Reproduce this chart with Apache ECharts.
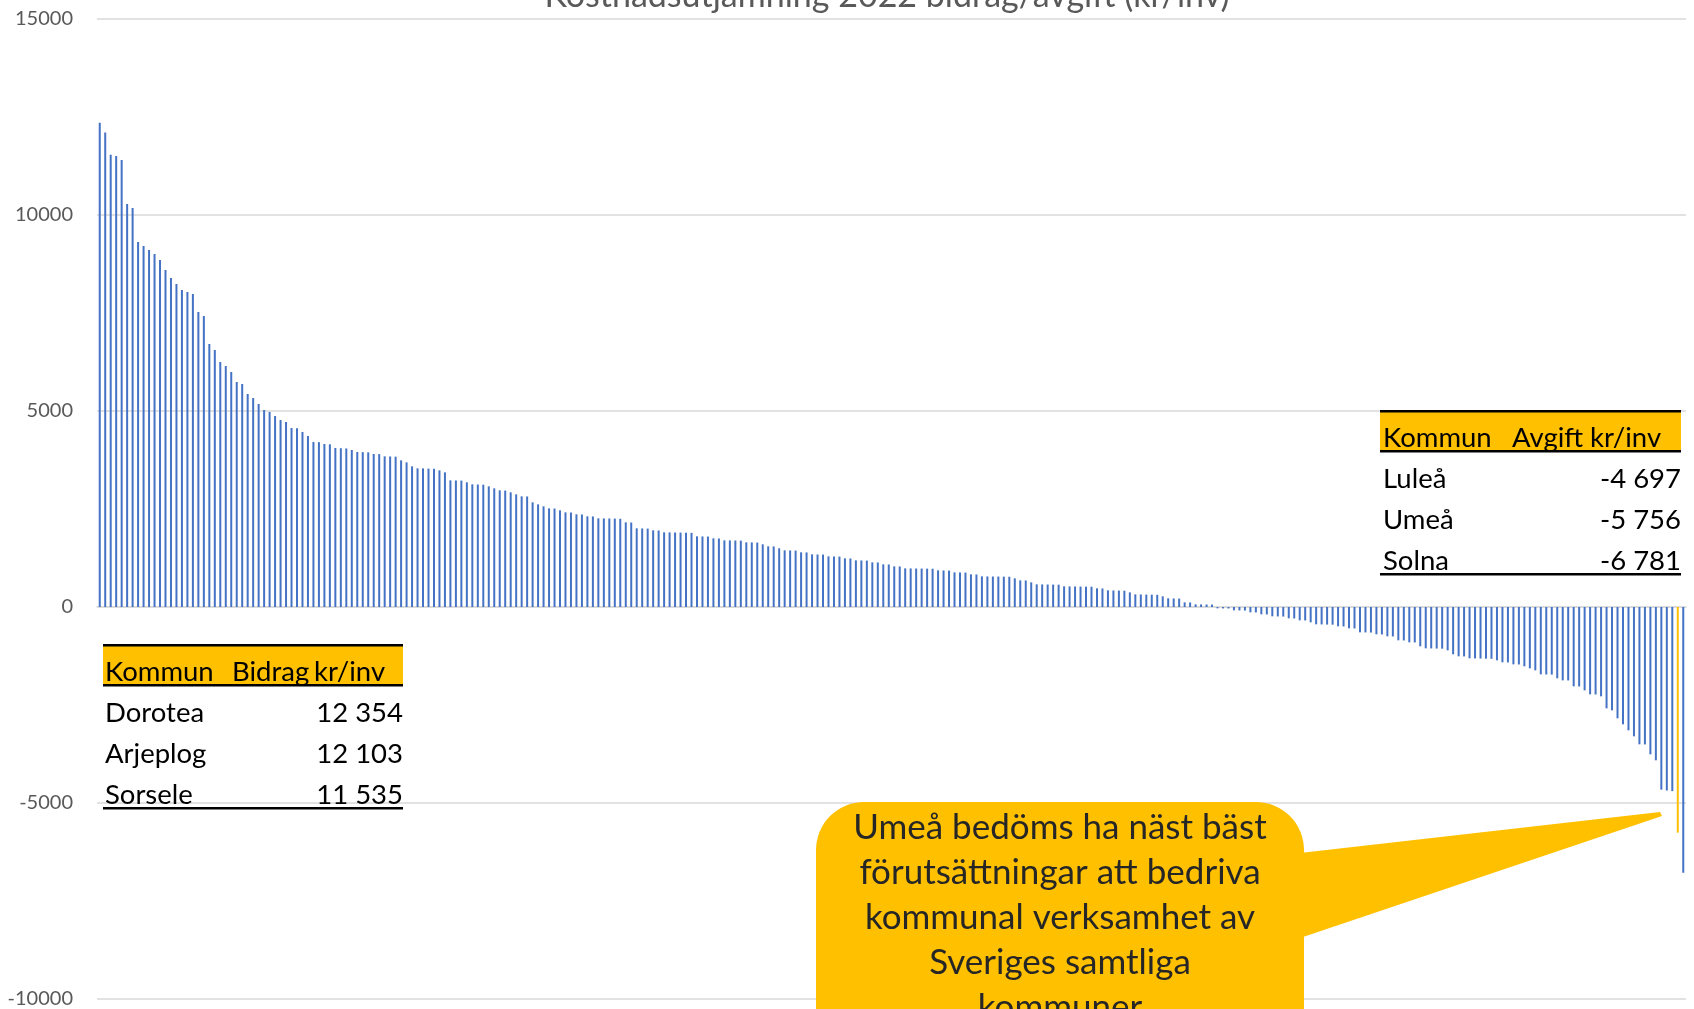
<!DOCTYPE html>
<html>
<head>
<meta charset="utf-8">
<script src="https://cdn.jsdelivr.net/npm/echarts@6/dist/echarts.min.js"></script>
<style>
html,body{margin:0;padding:0;background:#fff;}
#chart{width:1694px;height:1009px;}
</style>
</head>
<body>
<div id="chart"></div>
<script>
// ---- data (kr/inv per kommun, sorted) ----
const titleText = 'Kostnadsutjämning 2022 bidrag/avgift (kr/inv)';
const values = [
  12354, 12103, 11535, 11505, 11403, 10281, 10179, 9311, 9209, 9107,
  9005, 8852, 8597, 8393, 8240, 8087, 8036, 7985, 7525, 7423,
  6709, 6556, 6250, 6148, 5995, 5740, 5689, 5434, 5332, 5179,
  5025, 4974, 4872, 4770, 4719, 4566, 4560, 4464, 4362, 4209,
  4205, 4158, 4150, 4056, 4050, 4045, 4005, 3954, 3950, 3945,
  3903, 3900, 3843, 3840, 3835, 3741, 3690, 3588, 3537, 3535,
  3530, 3525, 3486, 3435, 3231, 3228, 3225, 3180, 3129, 3125,
  3120, 3078, 3027, 2976, 2970, 2925, 2874, 2823, 2820, 2670,
  2619, 2568, 2517, 2512, 2466, 2415, 2410, 2364, 2360, 2313,
  2310, 2262, 2260, 2258, 2255, 2250, 2160, 2155, 2007, 2004,
  2000, 1956, 1952, 1905, 1903, 1900, 1898, 1895, 1892, 1803,
  1800, 1797, 1752, 1748, 1701, 1699, 1696, 1693, 1650, 1647,
  1644, 1599, 1548, 1545, 1497, 1446, 1443, 1440, 1395, 1392,
  1343, 1340, 1337, 1292, 1289, 1286, 1241, 1238, 1190, 1187,
  1184, 1139, 1136, 1088, 1085, 1037, 1034, 986, 984, 982,
  980, 978, 976, 935, 932, 929, 884, 881, 878, 833,
  830, 782, 780, 778, 776, 774, 772, 731, 680, 677,
  629, 578, 576, 574, 572, 570, 527, 525, 523, 521,
  519, 517, 476, 473, 425, 422, 419, 416, 374, 323,
  320, 317, 314, 311, 272, 221, 218, 215, 119, 116,
  68, 66, 64, 62, -34, -36, -38, -85, -88, -91,
  -136, -139, -187, -190, -238, -241, -244, -289, -292, -340,
  -343, -391, -442, -445, -448, -451, -493, -496, -544, -547,
  -646, -649, -652, -697, -700, -748, -751, -850, -853, -901,
  -904, -1003, -1054, -1057, -1060, -1063, -1105, -1207, -1258, -1261,
  -1309, -1312, -1315, -1318, -1321, -1360, -1411, -1414, -1463, -1466,
  -1514, -1565, -1616, -1718, -1721, -1724, -1820, -1871, -1874, -2024,
  -2027, -2126, -2228, -2231, -2279, -2585, -2636, -2840, -2993, -3146,
  -3299, -3503, -3506, -3758, -3911, -4660, -4680, -4697, -5756, -6781
];
const highlightRank = 289; // Umeå (1-based rank)
const yTicks = [-10000, -5000, 0, 5000, 10000, 15000];

const bidragHeader = ['Kommun', 'Bidrag', 'kr/inv'];
const bidragNames = ['Dorotea', 'Arjeplog', 'Sorsele'];
const bidragValues = [12354, 12103, 11535];
const avgiftHeader = ['Kommun', 'Avgift', 'kr/inv'];
const avgiftNames = ['Luleå', 'Umeå', 'Solna'];
const avgiftValues = [-4697, -5756, -6781];
const calloutLines = [
  'Umeå bedöms ha näst bäst',
  'förutsättningar att bedriva',
  'kommunal verksamhet av',
  'Sveriges samtliga',
  'kommuner'
];

// ---- build ----
const categories = values.map((v, i) => String(i + 1));
const barData = values.map((v, i) => (i + 1 === highlightRank)
  ? { value: v, itemStyle: { color: '#FFC000' } }
  : v);

const FONT = 'Lato, "Open Sans", sans-serif';
const fmt = n => (n < 0 ? '-' : '') + String(Math.abs(n)).replace(/\B(?=(\d{3})+(?!\d))/g, ' ');

function table(x0, x1, yTop, header, names, vals, cols) {
  const els = [];
  const fs = 27.5;
  const headH = 40;
  const rowH = 41;
  els.push({ type: 'rect', shape: { x: x0, y: yTop, width: x1 - x0, height: headH }, style: { fill: '#FFC000' }, z: 10 });
  els.push({ type: 'rect', shape: { x: x0, y: yTop - 1, width: x1 - x0, height: 2.5 }, style: { fill: '#000' }, z: 11 });
  els.push({ type: 'rect', shape: { x: x0, y: yTop + headH - 1, width: x1 - x0, height: 2.5 }, style: { fill: '#000' }, z: 11 });
  const hc = yTop + 27;
  header.forEach((h, k) => {
    els.push({ type: 'text', z: 12, style: { text: h, x: cols[k], y: hc, font: fs + 'px ' + FONT, fill: '#000', align: 'left', verticalAlign: 'middle' } });
  });
  names.forEach((n, i) => {
    const cy = yTop + headH + 28 + i * rowH;
    els.push({ type: 'text', z: 12, style: { text: n, x: cols[0], y: cy, font: fs + 'px ' + FONT, fill: '#000', align: 'left', verticalAlign: 'middle' } });
    els.push({ type: 'text', z: 12, style: { text: fmt(vals[i]), x: x1, y: cy, font: fs + 'px ' + FONT, fill: '#000', align: 'right', verticalAlign: 'middle' } });
  });
  const yb = yTop + headH + 3 * 40 + 2;
  els.push({ type: 'rect', shape: { x: x0, y: yb, width: x1 - x0, height: 2.5 }, style: { fill: '#000' }, z: 11 });
  return els;
}

const graphics = [];
graphics.push({ type: 'text', z: 5, style: { text: titleText, x: 887, y: -4, font: '34px ' + FONT, fill: '#595959', align: 'center', verticalAlign: 'middle' } });
graphics.push(...table(103, 403, 645, bidragHeader, bidragNames, bidragValues, [105, 232, 314]));
graphics.push(...table(1380, 1681, 411, avgiftHeader, avgiftNames, avgiftValues, [1383, 1512, 1590]));
// callout pointer + box
graphics.push({ type: 'polygon', z: 20, shape: { points: [[1300, 853], [1660, 812], [1662, 816], [1300, 938]] }, style: { fill: '#FFC000' } });
graphics.push({ type: 'rect', z: 20, shape: { x: 816, y: 802, width: 488, height: 260, r: 48 }, style: { fill: '#FFC000' } });
calloutLines.forEach((t, i) => {
  graphics.push({ type: 'text', z: 21, style: { text: t, x: 1060, y: 828 + i * 45, font: '35px ' + FONT, fill: '#262626', align: 'center', verticalAlign: 'middle' } });
});

const chart = echarts.init(document.getElementById('chart'), null, { renderer: 'canvas' });
chart.setOption({
  animation: false,
  backgroundColor: '#fff',
  grid: { left: 97, right: 8, top: 19, bottom: 10, containLabel: false },
  xAxis: {
    type: 'category', data: categories,
    axisLine: { show: true, onZero: true, lineStyle: { color: '#D9D9D9', width: 1.5 } },
    axisTick: { show: false }, axisLabel: { show: false }, splitLine: { show: false }
  },
  yAxis: {
    type: 'value', min: yTicks[0], max: yTicks[yTicks.length - 1], interval: 5000,
    axisLine: { show: false }, axisTick: { show: false },
    axisLabel: { margin: 24, color: '#595959', fontSize: 20, fontFamily: FONT, formatter: v => String(v) },
    splitLine: { show: true, lineStyle: { color: '#D9D9D9', width: 1.5 } }
  },
  series: [{
    type: 'bar', data: barData, barWidth: 2,
    itemStyle: { color: '#4472C4' }
  }],
  graphic: { elements: graphics }
});
</script>
</body>
</html>
